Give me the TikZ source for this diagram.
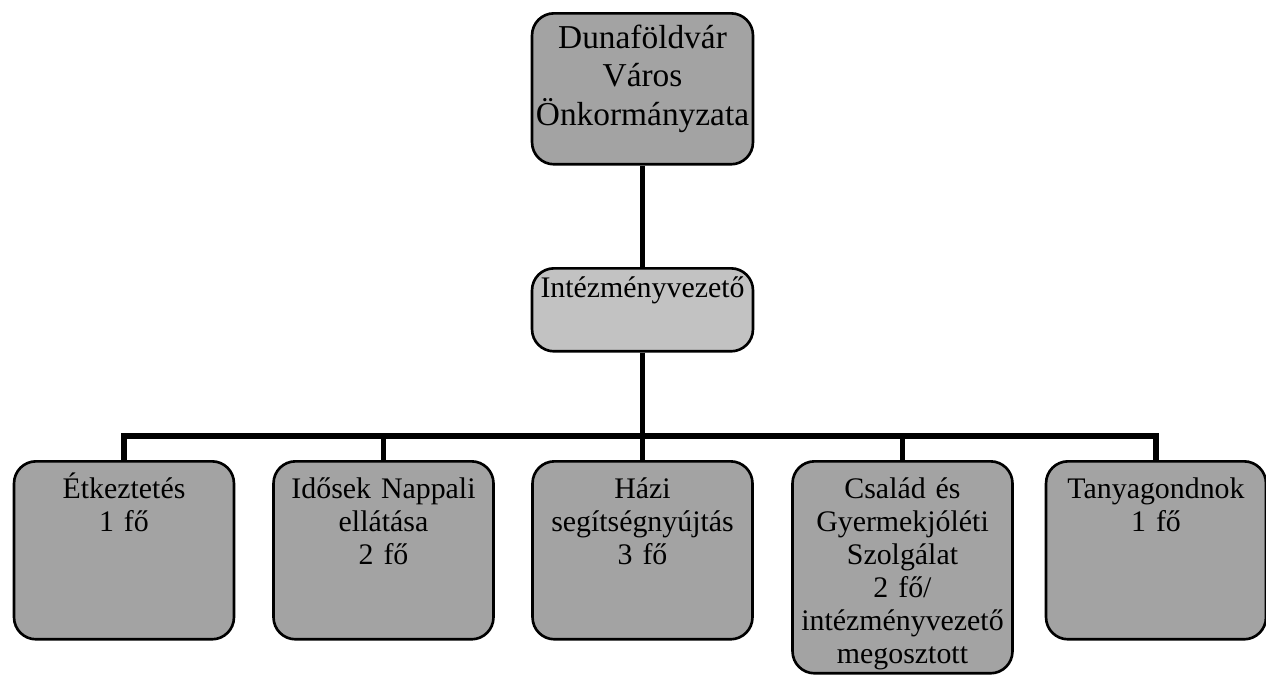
\documentclass[tikz,border=0pt]{standalone}
\usepackage{fontspec}
\setmainfont{Liberation Serif}
\usepackage{tikz}

\begin{document}
\begin{tikzpicture}[x=0.02cm,y=-0.02cm]
            \tikzstyle{every node}+=[inner sep=0pt]
            \tikzstyle{unitbox}=[draw=black, line width=1.5pt, fill=black!36, rounded corners=0.44cm, anchor=north, text width=4.4cm, align=center, font=\fontsize{17}{18.8}\selectfont, text height=0.74cm, text depth=2.82cm]
            \tikzstyle{link}=[line width=3pt]
            \useasboundingbox (0,0) rectangle (1266,674);
            \node [unitbox, text width=4.42cm, font=\fontsize{19}{21.9}\selectfont, text height=0.70cm, text depth=2.32cm] (gov) at (642.5,12) {Dunaföldvár\\Város\\Önkormányzata};
            \node [unitbox, text width=4.42cm, fill=black!24, text height=0.58cm, text depth=1.08cm] (vez) at (642.5,267) {Intézményvezető};
            \node [unitbox] (etk) at (124,460) {Étkeztetés\\1 fő};
            \node [unitbox] (nap) at (383.5,460) {Idősek Nappali\\ellátása\\2 fő};
            \node [unitbox] (hazi) at (642.5,460) {Házi\\segítségnyújtás\\3 fő};
            \node [unitbox, text depth=3.50cm] (csal) at (902.5,460) {Család és\\Gyermekjóléti\\Szolgálat\\2 fő/\\intézményvezető\\megosztott};
            \node [unitbox] (tanya) at (1156,460) {Tanyagondnok\\1 fő};
            \coordinate (bar) at (642.5,436);
            \draw [link] (gov) -- (vez);
            \draw [link] (vez) -- (bar);
            \draw [link] (etk.north) |- (bar) -| (tanya.north);
            \foreach \u in {nap,hazi,csal}
                \draw [link] (\u.north) -- (\u.north |- bar);
\end{tikzpicture}
\end{document}
